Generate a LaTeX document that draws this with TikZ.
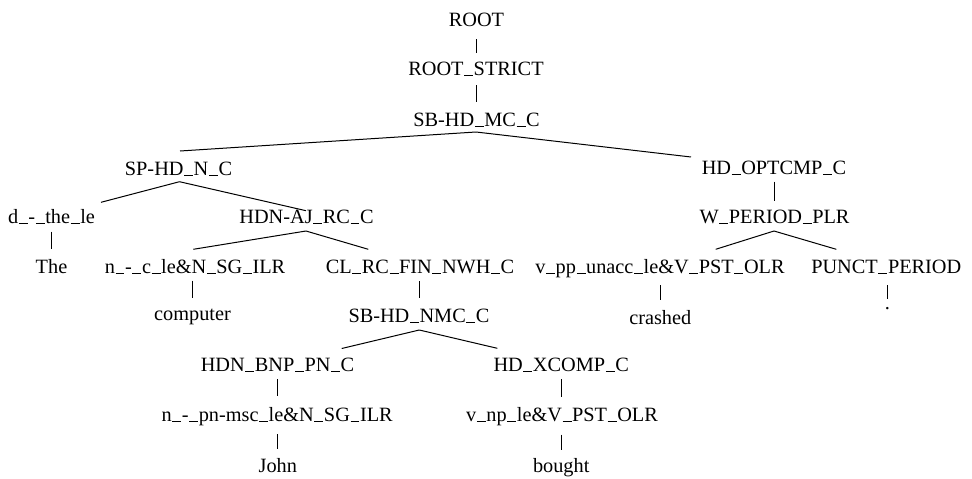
\documentclass[tikz,border=0pt]{standalone}
\usepackage{fontspec}
\setmainfont{Liberation Serif}
\usetikzlibrary{calc}
\newcommand\tedge[6]{\draw[edge] ($(#1.base)+(#2,#3)$) -- ($(#4.base)+(#5,#6)$);}
\newcommand\us{\kern0.03em\rule[-0.03em]{0.44em}{0.05em}\kern0.03em}
\begin{document}
\begin{tikzpicture}[x=1pt,y=-1pt,
  lbl/.style={anchor=base, inner sep=0pt, font=\fontsize{20.3}{24}\selectfont},
  edge/.style={line width=1pt, black}]
\useasboundingbox (0,0) rectangle (972,479);
% nodes
\node[lbl] (root)   at (476.5,26)    {ROOT};
\node[lbl] (rs)     at (476,75)      {ROOT\us STRICT};
\node[lbl] (sb)     at (476.5,126)   {SB-HD\us MC\us C};
\node[lbl] (sp)     at (178.5,175)   {SP-HD\us N\us C};
\node[lbl] (hdopt)  at (774,174.5)   {HD\us OPTCMP\us C};
\node[lbl] (dthe)   at (51.5,223)    {d\us -\us the\us le};
\node[lbl] (hdnaj)  at (306.5,223)   {HDN-AJ\us RC\us C};
\node[lbl] (wper)   at (774.5,223)   {W\us PERIOD\us PLR};
\node[lbl] (the)    at (51.5,273.3)  {The};
\node[lbl] (nc)     at (195,273.3)   {n\us -\us c\us le\&N\us SG\us ILR};
\node[lbl] (cl)     at (420,273.3)   {CL\us RC\us FIN\us NWH\us C};
\node[lbl] (vpp)    at (660,273.3)   {v\us pp\us unacc\us le\&V\us PST\us OLR};
\node[lbl] (punct)  at (886.3,273.3) {PUNCT\us PERIOD};
\node[lbl] (comp)   at (192.5,320.5) {computer};
\node[lbl] (nmc)    at (419,322)     {SB-HD\us NMC\us C};
\node[lbl] (crashed) at (660.3,324)  {crashed};
\node[lbl] (dot)    at (887.3,309)   {.};
\node[lbl] (bnp)    at (277.5,371.5) {HDN\us BNP\us PN\us C};
\node[lbl] (xcomp)  at (561.2,371.5) {HD\us XCOMP\us C};
\node[lbl] (npn)    at (277.2,421.5) {n\us -\us pn-msc\us le\&N\us SG\us ILR};
\node[lbl] (vnp)    at (562,421.5)   {v\us np\us le\&V\us PST\us OLR};
\node[lbl] (john)   at (277.8,472.3) {John};
\node[lbl] (bought) at (561.2,472.3) {bought};
% vertical edges
\tedge{root}{-0.5}{13}{rs}{0}{-22}
\tedge{rs}{0}{10}{sb}{-0.5}{-24}
\tedge{dthe}{0}{8.7}{the}{0}{-24}
\tedge{hdopt}{0}{7.2}{wper}{-0.5}{-22.3}
\tedge{nc}{-2.3}{7.4}{comp}{0.2}{-22.2}
\tedge{cl}{-0.5}{7.7}{nmc}{0.5}{-23.7}
\tedge{vpp}{0.7}{11.7}{crashed}{0.4}{-24}
\tedge{punct}{1}{11.7}{dot}{0}{-9.7}
\tedge{bnp}{0.2}{7.8}{npn}{0.5}{-26}
\tedge{xcomp}{0.5}{7.5}{vnp}{-0.3}{-24.5}
\tedge{npn}{0.5}{12.5}{john}{-0.1}{-23.3}
\tedge{vnp}{-0.3}{13}{bought}{0.5}{-22.3}
% branching edges
\tedge{sb}{-0.5}{6}{sp}{1.5}{-24}
\tedge{sb}{-0.5}{6}{hdopt}{-83}{-17.5}
\tedge{sp}{1}{6.7}{dthe}{49.5}{-20.7}
\tedge{sp}{1}{6.7}{hdnaj}{-0.5}{-12.3}
\tedge{hdnaj}{-0.5}{8}{nc}{-1.7}{-24}
\tedge{hdnaj}{-0.5}{8}{cl}{-51.7}{-24}
\tedge{wper}{-0.5}{8}{vpp}{55.7}{-24}
\tedge{wper}{-0.5}{8}{punct}{-50}{-24}
\tedge{nmc}{0.3}{8}{bnp}{64.2}{-23}
\tedge{nmc}{0.3}{8}{xcomp}{-63.9}{-23.2}
\end{tikzpicture}
\end{document}
